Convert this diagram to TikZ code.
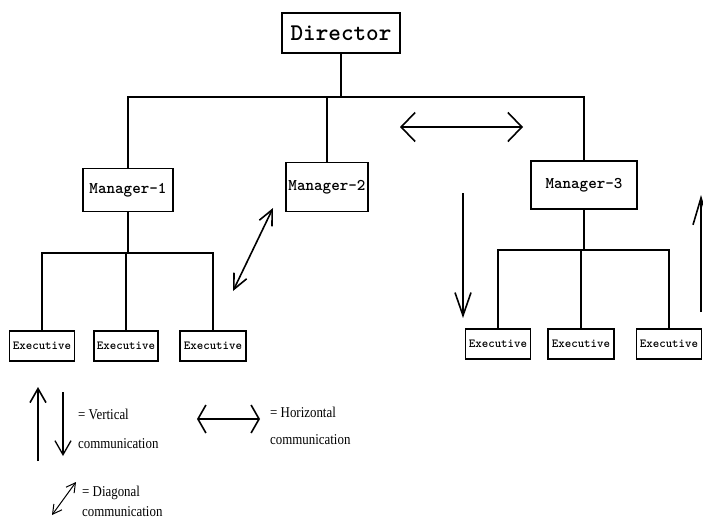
\documentclass[tikz,border=0pt]{standalone}
\usepackage{fontspec}
\setmainfont{Liberation Serif}
\usetikzlibrary{arrows.meta}
\newcommand{\legscale}[1]{\scalebox{0.86}[1]{#1}}
\tikzset{
  box/.style={draw, line width=1.8pt, fill=white, inner sep=0pt, font=\ttfamily\bfseries},
  dirbox/.style={box, minimum width=118pt, minimum height=40pt, font=\ttfamily\bfseries\fontsize{24}{24}\selectfont},
  mgrbox/.style={box, minimum height=46pt, font=\ttfamily\bfseries\fontsize{16.3}{16.3}\selectfont},
  exbox/.style={box, line width=1.3pt, minimum width=65pt, minimum height=30pt, font=\ttfamily\bfseries\fontsize{12.3}{12.3}\selectfont},
  link/.style={line width=1.8pt},
  comm/.style={line width=1.6pt},
  legtext/.style={anchor=west, inner sep=0pt, font=\fontsize{15}{15}\selectfont},
}
\begin{document}
\begin{tikzpicture}[x=1pt,y=-1pt]
\useasboundingbox (0,0) rectangle (703,522);
% boxes
\node[dirbox] (dir) at (341,33) {Director};
\node[mgrbox, minimum width=90pt, minimum height=43pt] (m1) at (128,190) {Manager-1};
\node[mgrbox, minimum width=82pt, minimum height=49pt] (m2) at (327,187) {Manager-2};
\node[mgrbox, minimum width=106pt, minimum height=48pt] (m3) at (584,185) {Manager-3};
\node[exbox] (e1) at (42,346) {Executive};
\node[exbox, minimum width=64pt] (e2) at (126,346) {Executive};
\node[exbox, minimum width=66pt] (e3) at (213,346) {Executive};
\node[exbox] (e4) at (498,344) {Executive};
\node[exbox, minimum width=66pt] (e5) at (581,344) {Executive};
\node[exbox] (e6) at (669,344) {Executive};
% bus coordinates
\coordinate (top) at (341,97);
\coordinate (lb) at (128,253);
\coordinate (rb) at (584,250);
% tree lines
\draw[link] (dir.south) -- (top);
\draw[link] (m1.north) -- (m1.north |- top) -- (m3.north |- top) -- (m3.north);
\draw[link] (m2.north) -- (m2.north |- top);
\draw[link] (m1.south) -- (lb);
\draw[link] (e1.north) -- (e1.north |- lb) -- (e3.north |- lb) -- (e3.north);
\draw[link] (e2.north) -- (e2.north |- lb);
\draw[link] (m3.south) -- (rb);
\draw[link] (e4.north) -- (e4.north |- rb) -- (e6.north |- rb) -- (e6.north);
\draw[link] (e5.north) -- (e5.north |- rb);
% communication arrows
\coordinate (h1) at (400,127);
\coordinate (h2) at (523,127);
\draw[comm, {Straight Barb[length=14pt,width=29pt]}-{Straight Barb[length=14pt,width=29pt]}] (h1) -- (h2);
\coordinate (d1) at (233,291);
\coordinate (d2) at (273,208);
\draw[comm, {Straight Barb[length=15pt,width=14pt]}-{Straight Barb[length=15pt,width=14pt]}] (d1) -- (d2);
\coordinate (v1) at (463,193);
\coordinate (v2) at (463,318);
\draw[comm, -{Straight Barb[length=23pt,width=16pt]}] (v1) -- (v2);
\coordinate (u1) at (701,312);
\coordinate (u2) at (701,195);
\draw[comm, -{Straight Barb[length=27pt,width=16pt]}] (u1) -- (u2);
% legend
\coordinate (lu1) at (38,461);
\coordinate (lu2) at (38,387);
\draw[comm, -{Straight Barb[length=14pt,width=16pt]}] (lu1) -- (lu2);
\coordinate (ld1) at (63,392);
\coordinate (ld2) at (63,456);
\draw[comm, line width=1.3pt, -{Straight Barb[length=14pt,width=16pt]}] (ld1) -- (ld2);
\node[legtext] (vt1) at (78,414) {\legscale{= Vertical}};
\node[legtext] (vt2) at (78,444) {\legscale{communication}};
\coordinate (lh1) at (197,419);
\coordinate (lh2) at (260,419);
\draw[comm, {Straight Barb[length=8pt,width=28pt]}-{Straight Barb[length=8pt,width=28pt]}] (lh1) -- (lh2);
\node[legtext] (ht1) at (270,412) {\legscale{= Horizontal}};
\node[legtext] (ht2) at (270,440) {\legscale{communication}};
\coordinate (lg1) at (52,515);
\coordinate (lg2) at (76,482);
\draw[line width=1pt, {Straight Barb[length=9pt,width=10pt]}-{Straight Barb[length=9pt,width=10pt]}] (lg1) -- (lg2);
\node[legtext] (gt1) at (82,493) {\legscale{= Diagonal}};
\node[legtext] (gt2) at (82,512) {\legscale{communication}};
\end{tikzpicture}
\end{document}
